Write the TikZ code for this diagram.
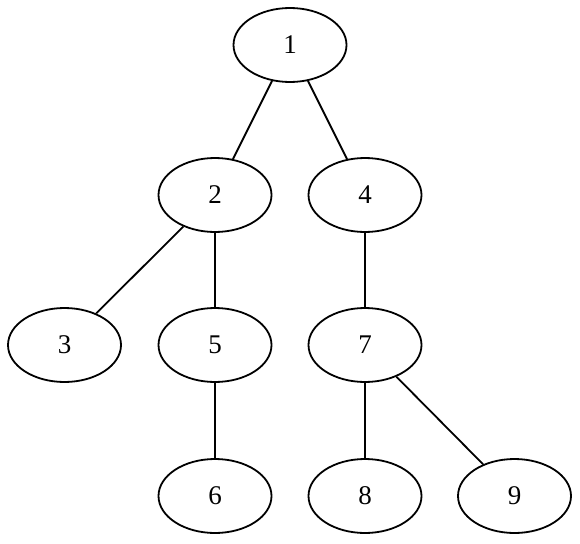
\documentclass[tikz,border=0pt]{standalone}
\usepackage{fontspec}
\setmainfont{Liberation Serif}
\usetikzlibrary{shapes.geometric}
\begin{document}
\begin{tikzpicture}[x=1pt,y=-1pt,
  vtx/.style={draw,ellipse,line width=1.8pt,minimum width=113pt,minimum height=74pt,inner sep=0pt,font=\fontsize{27}{27}\selectfont},
  edge/.style={line width=1.8pt}]
\useasboundingbox (0,0) rectangle (580,543);
\node[vtx] (n1) at (290,45) {1};
\node[vtx] (n2) at (215,195) {2};
\node[vtx] (n4) at (365,195) {4};
\node[vtx] (n3) at (64.5,345) {3};
\node[vtx] (n5) at (215,345) {5};
\node[vtx] (n7) at (365,345) {7};
\node[vtx] (n6) at (215,496) {6};
\node[vtx] (n8) at (365,496) {8};
\node[vtx] (n9) at (514.5,496) {9};
\draw[edge] (n1) -- (n2);
\draw[edge] (n1) -- (n4);
\draw[edge] (n2) -- (n3);
\draw[edge] (n2) -- (n5);
\draw[edge] (n5) -- (n6);
\draw[edge] (n4) -- (n7);
\draw[edge] (n7) -- (n8);
\draw[edge] (n7) -- (n9);
\end{tikzpicture}
\end{document}
